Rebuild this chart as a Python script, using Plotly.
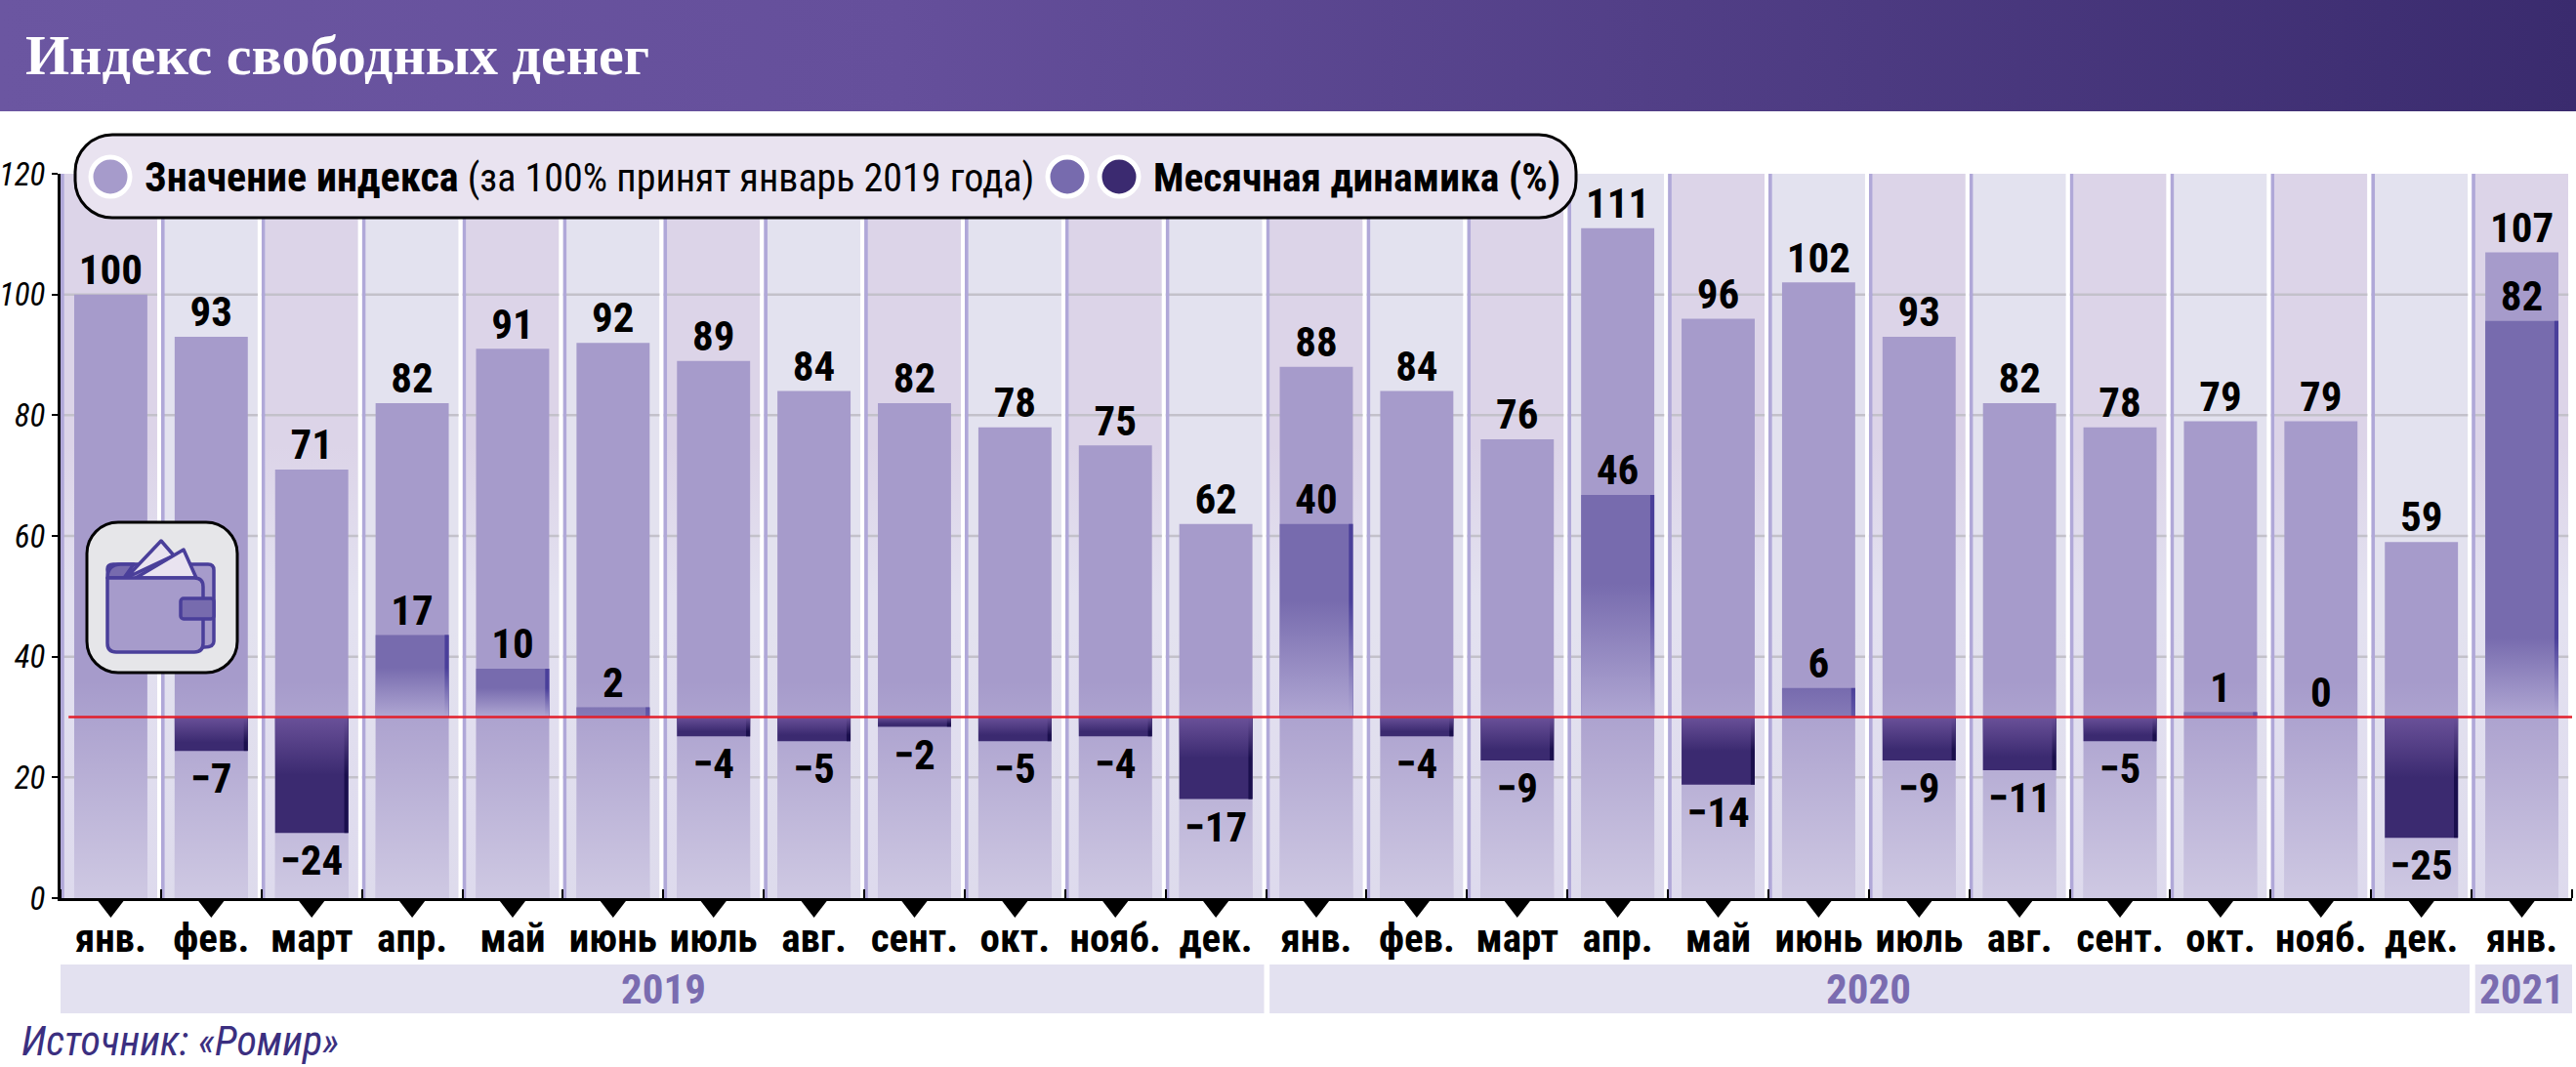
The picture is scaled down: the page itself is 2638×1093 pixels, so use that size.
import base64
import plotly.graph_objects as go

# ---------- data ----------
months = ["янв.", "фев.", "март", "апр.", "май", "июнь", "июль", "авг.", "сент.", "окт.", "нояб.", "дек.",
          "янв.", "фев.", "март", "апр.", "май", "июнь", "июль", "авг.", "сент.", "окт.", "нояб.", "дек.", "янв."]
index_values = [100, 93, 71, 82, 91, 92, 89, 84, 82, 78, 75, 62,
                88, 84, 76, 111, 96, 102, 93, 82, 78, 79, 79, 59, 107]
monthly_change = [None, -7, -24, 17, 10, 2, -4, -5, -2, -5, -4, -17,
                  40, -4, -9, 46, -14, 6, -9, -11, -5, 1, 0, -25, 82]
years = ["2019", "2020", "2021"]
year_first_col = [0, 12, 24]
year_last_col = [11, 23, 24]
y_ticks = [0, 20, 40, 60, 80, 100, 120]
baseline = 30          # index value at which the monthly-change zero sits
change_scale = 0.8     # index units per 1% of monthly change

# ---------- geometry ----------
W, H = 2638, 1093
L, R, T, B = 62, 2634, 178, 920
def xp(x): return (x - L) / (R - L)
def yp(y): return (B - y) / (B - T)

FONT = "Roboto Condensed"
SERIF = "Liberation Serif"
cols = list(range(len(months)))
BW = 0.728
PU, MID, DK = "#a69bcb", "#776bae", "#3b2a70"

y2_min = (0 - baseline) / change_scale
y2_max = (120 - baseline) / change_scale

def grad(c, y0, y1, scale, start, stop, w=BW, axis="y2", off=0.0):
    l, r = c + off - w / 2, c + off + w / 2
    return go.Scatter(x=[l, l, r, r, l], y=[y0, y1, y1, y0, y0], mode="none", fill="toself",
                      fillgradient=dict(type="vertical", colorscale=scale, start=start, stop=stop),
                      yaxis=axis, hoverinfo="skip", showlegend=False)

fig = go.Figure()

# --- layer 1: column bands + grid
fig.add_trace(go.Bar(x=cols, y=[120] * 25, width=0.925, offset=-0.463, yaxis="y", showlegend=False, hoverinfo="skip",
                     marker=dict(color=["#dcd4e8" if i % 2 == 0 else "#e3e2ef" for i in cols], line_width=0)))
for i in cols:
    if i % 2 == 0:
        fig.add_trace(grad(i, 0, 75, [[0, "rgba(227,225,240,1)"], [1, "rgba(227,225,240,0)"]], 50, 75, w=0.925, axis="y", off=0.0))
fig.add_trace(grad(12, 0, 45, [[0, "rgba(200,190,225,0.2)"], [1, "rgba(200,190,225,0)"]], 0, 45, w=25, axis="y"))
for t in y_ticks[1:-1]:
    fig.add_trace(go.Scatter(x=[-0.5, 24.5], y=[t, t], mode="lines", line=dict(color="#c3c1ca", width=2.5),
                             yaxis="y", hoverinfo="skip", showlegend=False))

# --- layer 2: separators + index bars
fig.add_trace(go.Bar(x=cols, y=[120] * 25, width=0.037, offset=-0.5, yaxis="y2", showlegend=False, hoverinfo="skip",
                     marker=dict(color="#b0a8d8", line_width=0)))
fig.add_trace(go.Bar(x=cols, y=[120] * 25, width=0.037, offset=0.463, yaxis="y2", showlegend=False, hoverinfo="skip",
                     marker=dict(color="#ffffff", line_width=0)))
fig.add_trace(go.Bar(x=cols, y=index_values, width=BW, yaxis="y2", name="Значение индекса",
                     marker=dict(color=PU, line_width=0), showlegend=False))
for i, v in zip(cols, index_values):
    fig.add_trace(grad(i, 0, min(v, 36), [[0, "rgba(255,255,255,0.46)"], [1, "rgba(255,255,255,0)"]], 0, 36))

# --- layer 3: monthly change bars, on their own axis
ch_cols = [i for i in cols if monthly_change[i] is not None]
ch_vals = [monthly_change[i] for i in ch_cols]
bar_col = [MID if v >= 0 else DK for v in ch_vals]
edge_col = ["#4a3f9a" if v >= 0 else "#1a0f4d" for v in ch_vals]
fig.add_trace(go.Bar(x=ch_cols, y=ch_vals, width=BW, yaxis="y3", name="Месячная динамика",
                     marker=dict(color=bar_col, line_width=0), showlegend=False))
for i, v in zip(ch_cols, ch_vals):
    if v > 0:
        stop = max(6.0, 0.6 * v) if v < 80 else 0.2 * v
        a0 = 1 if v >= 10 else 0.25
        fig.add_trace(grad(i, 0, v, [[0, f"rgba(176,167,211,{a0})"], [1, "rgba(176,167,211,0)"]], 0, stop, axis="y3"))
    elif v < 0:
        stop = 0.5 * v if v <= -14 else 0.75 * v
        fig.add_trace(grad(i, 0, v, [[0, "rgba(106,81,153,1)"], [1, "rgba(106,81,153,0)"]], 0, stop, axis="y3"))
fig.add_trace(go.Bar(x=ch_cols, y=ch_vals, width=0.04, offset=BW / 2 - 0.04, yaxis="y3", showlegend=False, hoverinfo="skip",
                     marker=dict(color=edge_col, line_width=0)))
fig.add_trace(go.Scatter(x=[-0.42, 24.5], y=[0, 0], mode="lines", line=dict(color="#e2202c", width=2.5),
                         yaxis="y3", hoverinfo="skip", showlegend=False))

# --- layer 4: labels and axis pointers
label_font = dict(family=FONT, size=43, color="black", weight="bold")
fig.add_trace(go.Scatter(x=cols, y=index_values, mode="text", text=[str(v) for v in index_values],
                         textposition="top center", textfont=label_font, yaxis="y4",
                         cliponaxis=False, hoverinfo="skip", showlegend=False))
neg_label_gap = 2.2    # space between a falling bar and its label, in monthly-change units
fig.add_trace(go.Scatter(x=ch_cols, y=[v if v >= 0 else v - neg_label_gap for v in ch_vals], mode="text",
                         text=[str(v).replace("-", "−") for v in ch_vals],
                         textposition=["top center" if v >= 0 else "bottom center" for v in ch_vals],
                         textfont=label_font, yaxis="y3", cliponaxis=False, hoverinfo="skip", showlegend=False))
fig.add_trace(go.Scatter(x=cols, y=[0] * 25, mode="markers",
                         marker=dict(symbol="triangle-down", angle=0, standoff=8, size=24, color="black", line_width=0),
                         yaxis="y4", cliponaxis=False, hoverinfo="skip", showlegend=False))

# ---------- shapes ----------
def rrect(x0, y0, x1, y1, r):
    k = r * 0.45
    pts = [("M", x0 + r, y0), ("L", x1 - r, y0), ("C", x1 - k, y0, x1, y0 + k, x1, y0 + r),
           ("L", x1, y1 - r), ("C", x1, y1 - k, x1 - k, y1, x1 - r, y1), ("L", x0 + r, y1),
           ("C", x0 + k, y1, x0, y1 - k, x0, y1 - r), ("L", x0, y0 + r), ("C", x0, y0 + k, x0 + k, y0, x0 + r, y0)]
    s = ""
    for p in pts:
        nums = p[1:]
        s += p[0] + " ".join(f"{xp(nums[j]):.5f},{yp(nums[j + 1]):.5f}" for j in range(0, len(nums), 2)) + " "
    return s + "Z"

shapes = [dict(type="path", xref="paper", yref="paper", path=rrect(77, 138, 1614, 223, 38),
               fillcolor="#e9e3f0", line=dict(color="black", width=3))]
for cx, c in [(113, PU), (1093, MID), (1146, DK)]:
    shapes.append(dict(type="circle", xref="paper", yref="paper", x0=xp(cx - 20), x1=xp(cx + 20), y0=yp(181 + 20), y1=yp(181 - 20),
                       fillcolor=c, line=dict(color="white", width=5)))
for f, l in zip(year_first_col, year_last_col):
    shapes.append(dict(type="rect", xref="x", yref="paper", x0=f - 0.5 + (0.035 if f > 0 else 0),
                       x1=l + 0.5 - (0.02 if l < 24 else 0), y0=yp(988), y1=yp(1038),
                       fillcolor="#e3e1f0", line_width=0, layer="below"))

# ---------- annotations ----------
def note(x, y, text, size, color="black", anchor="left", **font):
    return dict(xref="paper", yref="paper", x=xp(x), y=yp(y), text=text, showarrow=False, xanchor=anchor, yanchor="middle",
                font=dict(family=font.pop("family", FONT), size=size, color=color, **font))

anns = [
    note(24, 57, "<b>Индекс свободных денег</b>", 58, "white", family=SERIF),
    note(146, 181, "<b><span style='font-size:42px'>Значение индекса</span></b> (за 100% принят январь 2019 года)", 40),
    note(1179, 181, "<b>Месячная динамика (%)</b>", 41.5),
    note(20, 1066, "Источник: «Ромир»", 42, "#3b2f80", style="italic"),
]
for name, f, l in zip(years, year_first_col, year_last_col):
    anns.append(dict(xref="x", yref="paper", x=(f + l) / 2, y=yp(1013), text=f"<b>{name}</b>", showarrow=False,
                     xanchor="center", yanchor="middle", font=dict(family=FONT, size=43, color="#7a6cb0")))

# ---------- images ----------
def svg_uri(s): return "data:image/svg+xml;base64," + base64.b64encode(s.encode()).decode()

header_svg = ('<svg xmlns="http://www.w3.org/2000/svg" width="2638" height="114" preserveAspectRatio="none">'
              '<defs><linearGradient id="g" x1="0" x2="1" y1="0" y2="0"><stop offset="0" stop-color="#6b56a1"/>'
              '<stop offset="0.35" stop-color="#654f9b"/><stop offset="1" stop-color="#3a2b6e"/></linearGradient></defs>'
              '<rect width="2638" height="114" fill="url(#g)"/></svg>')
st = 'stroke="#4a3f9a" stroke-width="3.5" stroke-linejoin="round"'
wallet_svg = ('<svg xmlns="http://www.w3.org/2000/svg" width="160" height="160" viewBox="0 0 160 160">'
              '<rect x="2" y="2" width="154" height="154" rx="32" ry="32" fill="#e6e6e9" stroke="black" stroke-width="3"/>'
              f'<path d="M23 50 q0 -5 6 -5 L126 45 q6 0 6 6 L132 124 q0 6 -10 6 L30 130 Z" fill="{PU}" {st}/>'
              f'<path d="M23 59 q0 -14 14 -14 L50 45 L40 59 Z" fill="{MID}" {st}/>'
              f'<polygon points="42,59 78,21 91,36" fill="#e9e3f0" {st}/>'
              f'<polygon points="52,59 101,30 114,59" fill="#e9e3f0" {st}/>'
              f'<path d="M23 59 L112 59 q9 0 9 9 L121 126 q0 9 -9 9 L32 135 q-9 0 -9 -9 Z" fill="{PU}" {st}/>'
              f'<rect x="98" y="80" width="34" height="21" rx="3" fill="{MID}" {st}/>'
              '</svg>')
images = [
    dict(source=svg_uri(header_svg), xref="paper", yref="paper", x=xp(0), y=yp(0), sizex=W / (R - L), sizey=114 / (B - T),
         xanchor="left", yanchor="top", sizing="stretch", layer="below"),
    dict(source=svg_uri(wallet_svg), xref="paper", yref="paper", x=xp(87), y=yp(533), sizex=160 / (R - L), sizey=160 / (B - T),
         xanchor="left", yanchor="top", sizing="contain", layer="above"),
]

# ---------- layout ----------
hidden = dict(overlaying="y", visible=False, fixedrange=True)
fig.update_layout(
    width=W, height=H, autosize=False, margin=dict(l=L, r=W - R, t=T, b=H - B, autoexpand=False),
    paper_bgcolor="white", plot_bgcolor="white", barmode="overlay", showlegend=False,
    shapes=shapes, annotations=anns, images=images,
    xaxis=dict(range=[-0.5, 24.5], tickmode="array", tickvals=cols, ticktext=months, ticks="", showgrid=False, zeroline=False,
               tickfont=dict(family=FONT, size=41, color="black", weight="bold"), ticklabelstandoff=3, tickangle=0,
               showline=True, linecolor="black", linewidth=3,
               minor=dict(tickmode="array", tickvals=[c - 0.5 for c in cols] + [24.5], ticks="inside", ticklen=9, tickwidth=2, tickcolor="black")),
    yaxis=dict(range=[0, 120], tickmode="array", tickvals=y_ticks, ticks="outside", ticklen=6, tickwidth=2, tickcolor="black",
               showgrid=False, zeroline=False, showline=True, linecolor="black", linewidth=3,
               tickfont=dict(family=FONT, size=33, color="black", style="italic")),
    yaxis2=dict(range=[0, 120], **hidden),
    yaxis3=dict(range=[y2_min, y2_max], **hidden),
    yaxis4=dict(range=[0, 120], **hidden),
)
fig.write_html("out.html", config=dict(displayModeBar=False),
               post_script="document.body.style.margin='0';document.body.style.overflow='hidden';")
